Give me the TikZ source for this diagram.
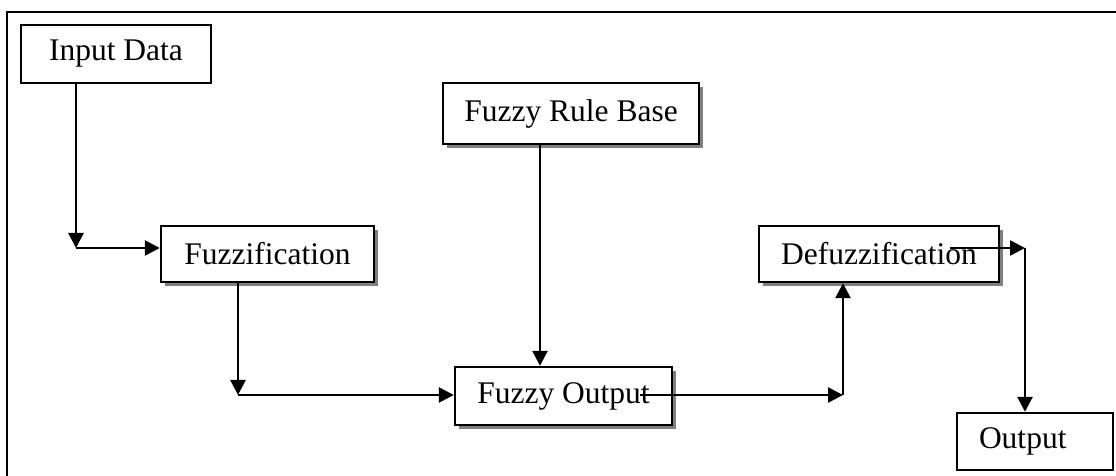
\documentclass[tikz,border=0pt]{standalone}
\usepackage{fontspec}
\setmainfont{Liberation Serif}
\usetikzlibrary{arrows.meta,shadows}

\begin{document}
\begin{tikzpicture}[
    x=0.5pt, y=-0.5pt,
    every node/.style={font=\fontsize{15.75}{18}\selectfont},
    block/.style={draw, line width=1.2pt, fill=white, inner sep=0pt},
    shadowed/.style={block,
        drop shadow={shadow xshift=2pt, shadow yshift=-2pt, fill=gray, opacity=1}},
    link/.style={line width=1.3pt, -{Triangle[length=7.5pt,width=7.5pt]}},
  ]
  \useasboundingbox (0,0) rectangle (1116,476);
  \draw[line width=1.2pt] (7,12) rectangle (1140,500);

  \node[block, minimum width=95pt, minimum height=29pt] (input) at (116,54) {Input Data};
  \node[shadowed, minimum width=106.5pt, minimum height=28pt] (fuzz) at (267.5,254) {Fuzzification};
  \node[shadowed, minimum width=128pt, minimum height=30.5pt] (rules) at (571,113.5) {Fuzzy Rule Base};
  \node[shadowed, minimum width=108.5pt, minimum height=29pt] (fout) at (563.5,396) {Fuzzy Output};
  \node[shadowed, minimum width=120pt, minimum height=28pt] (defuzz) at (879,254) {Defuzzification};
  \node[block, minimum width=78pt, minimum height=28.5pt, text width=56pt, align=left] (out) at (1035,441.5) {Output};

  % bends of the connectors
  \coordinate (c1) at (76,248);
  \coordinate (c2) at (238,395);
  \coordinate (r) at ([xshift=-11.75pt]fout.north);
  \coordinate (c3s) at (640,395);
  \coordinate (c3) at (843,395);
  \coordinate (c4s) at (950,248);
  \coordinate (c4) at (1025,248);

  \draw[link] (input.south -| c1) -- (c1);
  \draw[link] (c1) -- (c1 -| fuzz.west);
  \draw[link] (fuzz.south -| c2) -- (c2);
  \draw[link] (c2) -- (c2 -| fout.west);
  \draw[link] (rules.south -| r) -- (r);
  \draw[link] (c3s) -- (c3);
  \draw[link] (c3) -- (c3 |- defuzz.south);
  \draw[link] (c4s) -- (c4);
  \draw[link] (c4) -- (c4 |- out.north);
\end{tikzpicture}
\end{document}
